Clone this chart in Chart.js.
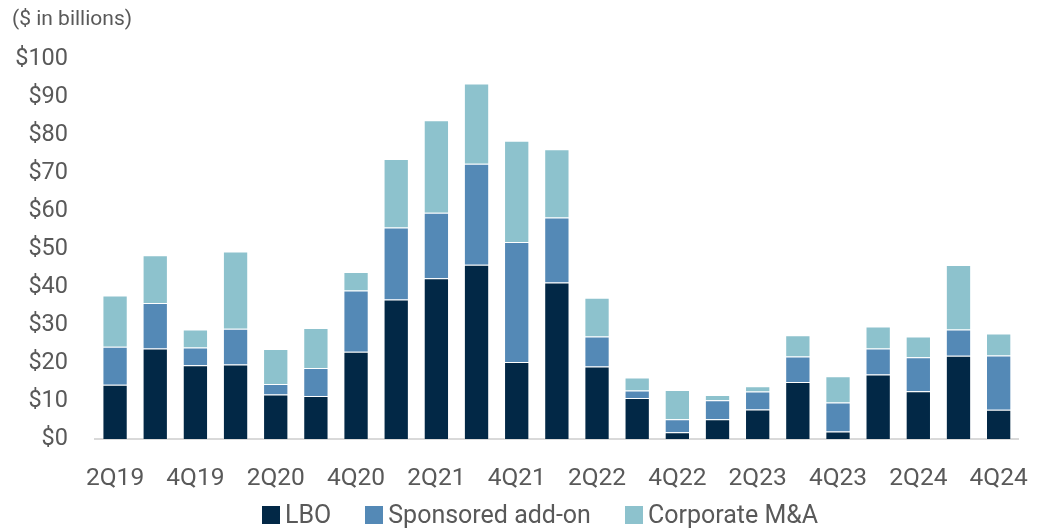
<!DOCTYPE html>
<html>
<head>
<meta charset="utf-8">
<script src="https://cdn.jsdelivr.net/npm/chart.js@4"></script>
<style>
  body { margin: 0; background: #fff; }
  #wrap { position: relative; width: 1053px; height: 529px; }
  #legend {
    position: absolute; left: 262px; top: 502px;
    display: flex; align-items: center;
    font: 25px Roboto, sans-serif; line-height: 26px; color: #595959;
  }
  .item { display: flex; align-items: center; margin-right: 34px; }
  .swatch { width: 18px; height: 18px; margin-right: 5px; }
</style>
</head>
<body>
<div id="wrap">
  <canvas id="dealChart" width="1053" height="529"></canvas>
  <div id="legend"></div>
</div>
<script>
const quarters = ['2Q19', '3Q19', '4Q19', '1Q20', '2Q20', '3Q20', '4Q20', '1Q21', '2Q21', '3Q21', '4Q21', '1Q22',
                  '2Q22', '3Q22', '4Q22', '1Q23', '2Q23', '3Q23', '4Q23', '1Q24', '2Q24', '3Q24', '4Q24'];

// $ in billions per quarter
const lbo       = [14.3, 23.8, 19.4, 19.6, 11.7, 11.3, 23.0, 36.7, 42.3, 45.9, 20.3, 41.2,
                   19.1, 10.8, 1.8, 5.2, 7.8, 15.0, 2.0, 17.0, 12.6, 21.9, 7.7];
const sponsored = [10.0, 12.0, 4.7, 9.4, 2.8, 7.4, 16.1, 19.0, 17.3, 26.6, 31.6, 17.1,
                   7.9, 2.0, 3.4, 5.0, 4.7, 6.7, 7.6, 6.8, 8.9, 6.9, 14.3];
const corporate = [13.5, 12.6, 4.7, 20.4, 9.2, 10.5, 4.9, 18.0, 24.3, 21.1, 26.6, 18.0,
                   10.2, 3.4, 7.7, 1.4, 1.4, 5.6, 6.9, 5.8, 5.5, 17.0, 5.8];

const seriesNames = ['LBO', 'Sponsored add-on', 'Corporate M&A'];
const seriesColors = ['#022846', '#5489b6', '#8dc2cd'];
const yTicks = [0, 10, 20, 30, 40, 50, 60, 70, 80, 90, 100];

Chart.defaults.font.family = 'Roboto, sans-serif';
Chart.defaults.color = '#595959';

const datasets = [lbo, sponsored, corporate].map((values, i) => ({
    label: seriesNames[i],
    data: values,
    backgroundColor: seriesColors[i],
    borderColor: 'rgba(255, 255, 255, 0.35)',
    borderWidth: 1,
    categoryPercentage: 1,
    barPercentage: 0.63
}));

const ctx = document.getElementById('dealChart').getContext('2d');
new Chart(ctx, {
    type: 'bar',
    data: { labels: quarters, datasets: datasets },
    options: {
        responsive: false,
        animation: false,
        layout: { padding: { left: 12, right: 12, top: 0, bottom: 40 } },
        plugins: {
            legend: { display: false },
            tooltip: { enabled: false },
            title: {
                display: true,
                text: '($ in billions)',
                align: 'start',
                font: { size: 21, weight: 'normal' },
                color: '#595959',
                padding: { top: 7, bottom: 27 }
            }
        },
        scales: {
            x: {
                stacked: true,
                grid: { display: false, drawTicks: false },
                border: { display: true, color: '#d9d9d9', width: 2 },
                ticks: {
                    autoSkip: false,
                    maxRotation: 0,
                    padding: 25,
                    font: { size: 24.5 },
                    callback: (v, i) => (i % 2 === 0 ? quarters[i] : '')
                },
                afterFit: scale => { scale.height = 50; }
            },
            y: {
                stacked: true,
                min: 0,
                max: 100,
                grid: { display: false, drawTicks: false },
                border: { display: false },
                afterBuildTicks: scale => { scale.ticks = yTicks.map(v => ({ value: v })); },
                ticks: {
                    padding: 27,
                    font: { size: 23.5 },
                    callback: v => '$' + v
                },
                afterFit: scale => { scale.width = 83; }
            }
        }
    }
});

// legend row under the axis
const legend = document.getElementById('legend');
seriesNames.forEach((name, i) => {
    const item = document.createElement('div');
    item.className = 'item';
    const sw = document.createElement('span');
    sw.className = 'swatch';
    sw.style.background = seriesColors[i];
    const txt = document.createElement('span');
    txt.textContent = name;
    item.appendChild(sw);
    item.appendChild(txt);
    legend.appendChild(item);
});
</script>
</body>
</html>
